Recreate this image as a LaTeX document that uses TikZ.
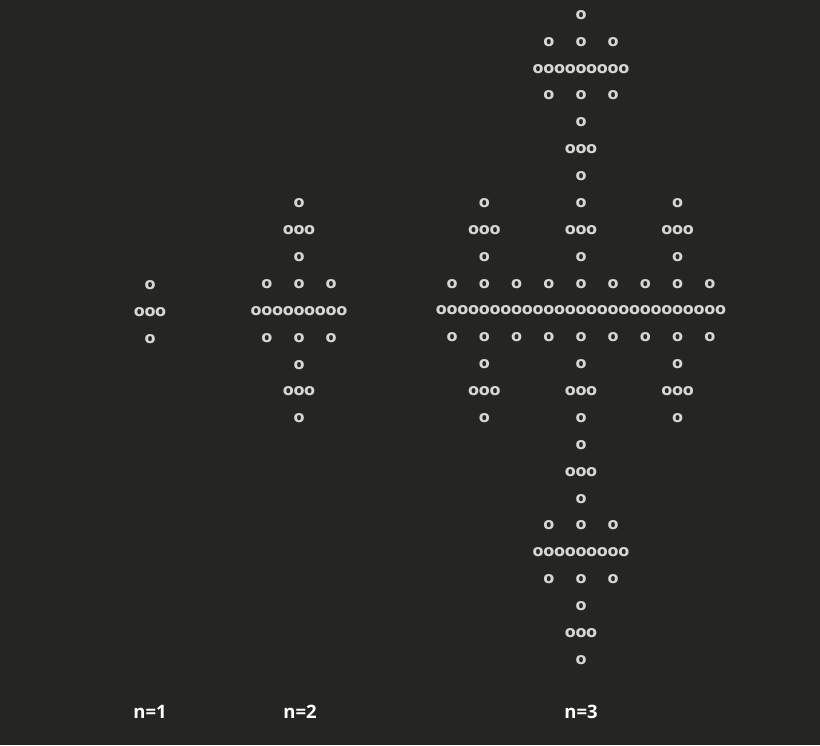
\documentclass[tikz,border=0pt]{standalone}
\usepackage{fontspec}
\setmainfont{Open Sans}
\newfontfamily\dotfont{DejaVu Sans}
\definecolor{bgc}{RGB}{37,37,33}
\definecolor{dotc}{RGB}{214,214,210}
\newcommand\crossfrac[5]{% #1 levels, #2 size, #3 cx, #4 cy, #5 prefix
  \pgfmathtruncatemacro\Nmax{#2-1}
  \foreach \r in {0,...,\Nmax}{
    \foreach \c in {0,...,\Nmax}{
      \pgfmathtruncatemacro\ok{
        (mod(\r,3)==1 || mod(\c,3)==1)
        && (#1<2 || mod(int((\r+0.5)/3),3)==1 || mod(int((\c+0.5)/3),3)==1)
        && (#1<3 || mod(int((\r+0.5)/9),3)==1 || mod(int((\c+0.5)/9),3)==1)
        && (#4+(\r-(#2-1)/2)*26.875 > 0)}
      \ifnum\ok=1
        \node[dotchar] (#5-\r-\c) at ({#3+(\c-(#2-1)/2)*10.74},{#4+(\r-(#2-1)/2)*26.875}) {o};
      \fi
    }
  }
}
\begin{document}
\begin{tikzpicture}[x=1pt,y=-1pt,
  dotchar/.style={inner sep=0pt,text=dotc,font=\dotfont\bfseries\fontsize{16}{16}\selectfont},
  lbl/.style={inner sep=0pt,text=white,font=\bfseries\fontsize{18.5}{18.5}\selectfont}]
\fill[bgc] (0,0) rectangle (820,745);
\useasboundingbox (0,0) rectangle (820,745);
\clip (0,0) rectangle (820,745);
\crossfrac{1}{3}{150}{312}{a}
\crossfrac{2}{9}{299}{311}{b}
\crossfrac{3}{27}{581}{310.6}{c}
\node[lbl] (l1) at (150,712) {n=1};
\node[lbl] (l2) at (300,712) {n=2};
\node[lbl] (l3) at (581,712) {n=3};
\end{tikzpicture}
\end{document}
